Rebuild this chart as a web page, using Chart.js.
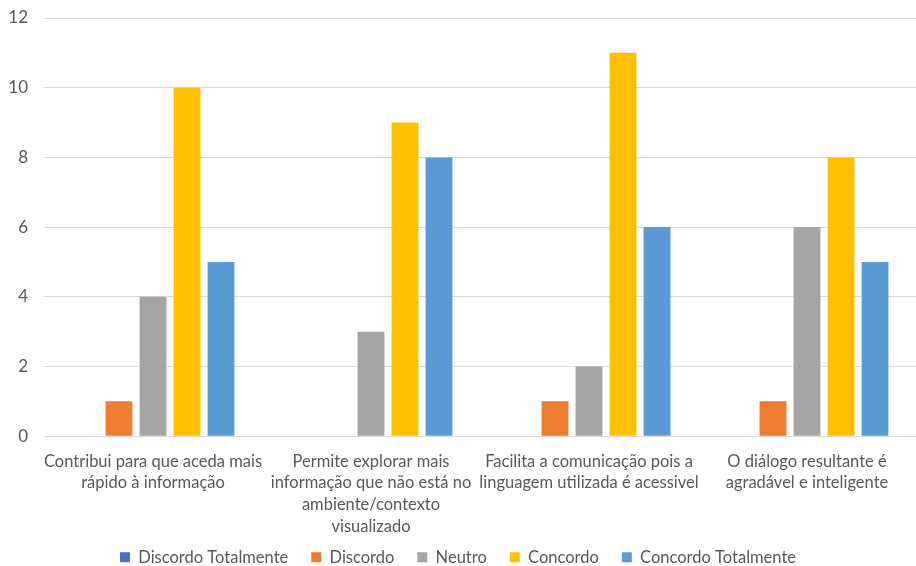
<!DOCTYPE html>
<html>
<head>
<meta charset="utf-8">
<script src="https://cdn.jsdelivr.net/npm/chart.js@4/dist/chart.umd.min.js"></script>
<style>
  html, body { margin: 0; padding: 0; background: #fff; }
  #wrap { width: 916px; height: 566px; position: relative; }
</style>
</head>
<body>
<div id="wrap"><canvas id="c"></canvas></div>
<script>
// Survey statements (x categories, wrapped as drawn)
const categories = [
  ["Contribui para que aceda mais", "rápido à informação"],
  ["Permite explorar mais", "informação que não está no", "ambiente/contexto", "visualizado"],
  ["Facilita a comunicação pois a", "linguagem utilizada é acessivel"],
  ["O diálogo resultante é", "agradável e inteligente"]
];

// Response counts per answer option
const discordoTotalmente = [0, 0, 0, 0];
const discordo           = [1, 0, 1, 1];
const neutro             = [4, 3, 2, 6];
const concordo           = [10, 9, 11, 8];
const concordoTotalmente = [5, 8, 6, 5];

const yTicks = [0, 2, 4, 6, 8, 10, 12];

const FONT = "Lato, 'Open Sans', sans-serif";

// Compact legend: wide gaps between items, but only a short strip reserved at the bottom
const LEGEND_HEIGHT = 22;
const LEGEND_SHIFT = 18;
const compactLegend = {
  id: 'compactLegend',
  beforeLayout(chart) {
    const lg = chart.legend;
    if (!lg || lg._compact) return;
    lg._compact = true;
    const fit = lg.fit;
    lg.fit = function () { fit.call(this); this.height = LEGEND_HEIGHT; };
    const draw = lg.draw;
    lg.draw = function (area) {
      const saved = { top: this.top, bottom: this.bottom, height: this.height };
      this.top = saved.top - LEGEND_SHIFT;
      this.height = 80;
      this.bottom = this.top + this.height;
      draw.call(this, area);
      Object.assign(this, saved);
    };
  }
};

new Chart(document.getElementById('c'), {
  type: 'bar',
  data: {
    labels: categories,
    datasets: [
      { label: 'Discordo Totalmente', data: discordoTotalmente, backgroundColor: '#4472C4' },
      { label: 'Discordo', data: discordo, backgroundColor: '#ED7D31' },
      { label: 'Neutro', data: neutro, backgroundColor: '#A5A5A5' },
      { label: 'Concordo', data: concordo, backgroundColor: '#FFC000' },
      { label: 'Concordo Totalmente', data: concordoTotalmente, backgroundColor: '#5B9BD5' }
    ]
  },
  plugins: [compactLegend],
  options: {
    responsive: true,
    maintainAspectRatio: false,
    animation: false,
    datasets: { bar: { categoryPercentage: 0.78, barPercentage: 0.79 } },
    layout: { padding: { left: 0, right: 0, top: 18, bottom: 0 } },
    scales: {
      x: {
        grid: { display: false },
        border: { color: '#D9D9D9', width: 1 },
        afterFit: (s) => { s.paddingLeft = 0; s.paddingRight = 0; },
        ticks: {
          autoSkip: false, maxRotation: 0, minRotation: 0,
          color: '#595959', font: { family: FONT, size: 16.5, lineHeight: 1.33 }, padding: 6
        }
      },
      y: {
        min: 0, max: 12,
        afterBuildTicks: (axis) => { axis.ticks = yTicks.map(v => ({ value: v })); },
        afterFit: (s) => { s.width = 44; s.paddingTop = 0; },
        grid: { color: '#D9D9D9', drawTicks: false },
        border: { display: false },
        ticks: { color: '#595959', font: { family: FONT, size: 17 }, padding: 16 }
      }
    },
    plugins: {
      legend: {
        position: 'bottom',
        labels: {
          boxWidth: 10, boxHeight: 10, padding: 23,
          color: '#595959', font: { family: FONT, size: 16.5 }
        }
      },
      tooltip: { enabled: false }
    }
  }
});
</script>
</body>
</html>
